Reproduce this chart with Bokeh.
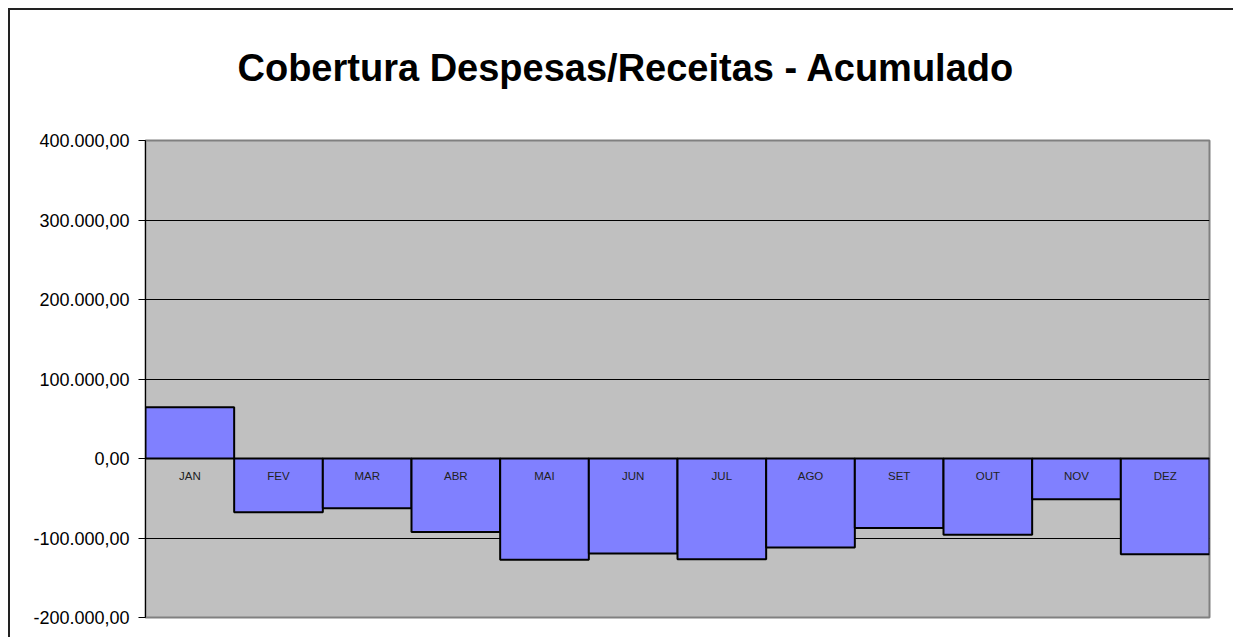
from bokeh.plotting import figure
from bokeh.models import ColumnDataSource, CustomJSTickFormatter, FixedTicker, Range1d
from bokeh.core.properties import value
from bokeh.embed import file_html
from bokeh.resources import INLINE

months = ["JAN", "FEV", "MAR", "ABR", "MAI", "JUN", "JUL", "AGO", "SET", "OUT", "NOV", "DEZ"]
values = [64500, -67500, -62500, -92300, -127500, -119500, -126700, -112000, -87300, -96000, -51200, -120400]
y_ticks = [-200000, -100000, 0, 100000, 200000, 300000, 400000]
title_text = "Cobertura Despesas/Receitas - Acumulado"

src = ColumnDataSource(dict(x=months, top=values, zero=[0] * len(months)))

p = figure(x_range=months, y_range=Range1d(-200000, 400000),
           width=1225, height=629, output_backend="svg", toolbar_location=None,
           min_border_left=135, min_border_right=26, min_border_top=130, min_border_bottom=22)

p.title.text = title_text + "\n"
p.title.text_font = "Liberation Sans"
p.title.text_font_size = "38px"
p.title.text_font_style = "bold"
p.title.align = "left"
p.title.offset = 92
p.title.standoff = 19
p.title.text_color = "black"

p.background_fill_color = "#C0C0C0"
p.border_fill_color = "white"
p.outline_line_color = "#808080"
p.outline_line_width = 2

p.xgrid.grid_line_color = None
p.ygrid.grid_line_color = "black"
p.ygrid.grid_line_width = 1
p.ygrid.ticker = FixedTicker(ticks=y_ticks)

p.vbar(x="x", top="top", bottom="zero", width=1.0, source=src,
       fill_color="#8080FF", line_color="black", line_width=2)

p.text(x="x", y="zero", text="x", source=src, text_align="center", text_baseline="middle",
       y_offset=17, text_font=value("Liberation Sans"), text_font_size="11.5px", text_color="#222222")

p.xaxis.visible = False
yax = p.yaxis[0]
yax.ticker = FixedTicker(ticks=y_ticks)
yax.formatter = CustomJSTickFormatter(code="""
const neg = tick < 0;
let s = Math.abs(Math.round(tick)).toString();
s = s.replace(/\\B(?=(\\d{3})+(?!\\d))/g, ".");
return (neg ? "-" : "") + s + ",00";
""")
yax.major_label_text_font = "Liberation Sans"
yax.major_label_text_font_size = "18px"
yax.major_label_text_color = "black"
yax.axis_line_color = "black"
yax.axis_line_width = 1
yax.major_tick_line_color = "black"
yax.major_tick_out = 7
yax.major_tick_in = 0
yax.minor_tick_line_color = None
yax.major_label_standoff = 9

p.styles = {"margin-left": "8px", "margin-top": "8px",
            "border-left": "2px solid #222222", "border-top": "2px solid #222222"}

open("out.html", "w").write(file_html(p, INLINE))
